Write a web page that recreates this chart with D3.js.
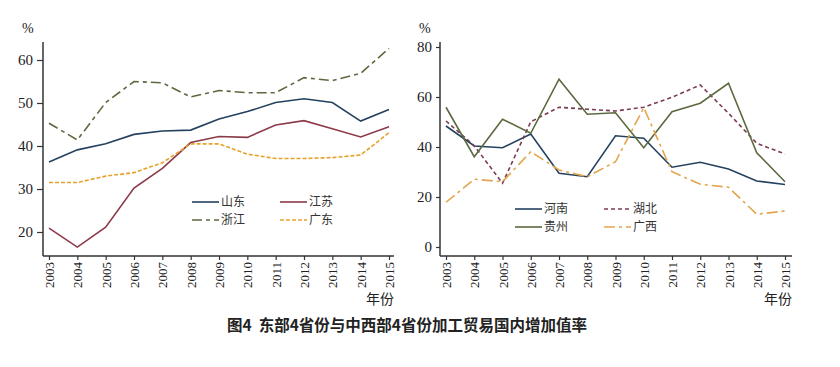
<!DOCTYPE html>
<html><head><meta charset="utf-8">
<script src="https://cdn.jsdelivr.net/npm/d3@7"></script>
<style>body{margin:0;background:#fff}svg{display:block}</style>
</head><body>
<svg id="c" width="840" height="367"></svg>
<script>
const years = [2003,2004,2005,2006,2007,2008,2009,2010,2011,2012,2013,2014,2015];
// East
const shandong  = [36.3,39.1,40.5,42.7,43.5,43.7,46.3,48.0,50.1,51.0,50.1,45.8,48.5];
const jiangsu   = [20.9,16.5,21.1,30.2,34.8,40.8,42.2,42.0,44.9,45.9,44.0,42.1,44.5];
const zhejiang  = [45.3,41.4,50.1,55.0,54.7,51.4,52.9,52.4,52.4,55.9,55.2,56.9,62.7];
const guangdong = [31.5,31.5,33.0,33.8,36.1,40.5,40.5,38.1,37.1,37.1,37.3,37.9,43.1];
// Central & West
const henan   = [48.4,40.4,39.7,45.2,29.5,28.1,44.5,43.5,31.9,33.9,31.2,26.4,25.0];
const hubei   = [50.4,40.5,25.5,50.1,55.9,55.1,54.4,55.9,59.9,64.8,53.5,41.5,37.2];
const guizhou = [55.9,36.1,51.1,45.5,67.1,53.1,53.7,39.7,54.1,57.5,65.5,37.7,26.1];
const guangxi = [17.9,27.1,26.1,38.1,30.8,28.1,34.1,55.7,30.1,25.1,23.9,13.1,14.4];
const leftTicks = [20,30,40,50,60];
const rightTicks = [0,20,40,60,80];
const title = "图4  东部4省份与中西部4省份加工贸易国内增加值率";

const svg = d3.select("#c");
const serif = "'Liberation Serif','Noto Sans CJK SC',serif";
const axisCol = "#333";

function panel(opt){
  const g = svg.append("g");
  const x = d3.scaleLinear().domain([2003,2015]).range(opt.xr);
  const y = d3.scaleLinear().domain(opt.yd).range(opt.yr);
  // y axis
  const ya = g.append("g").attr("transform",`translate(${opt.ax},0)`)
    .call(d3.axisLeft(y).tickValues(opt.ticks).tickSize(opt.tsize).tickPadding(4).tickFormat(d3.format("d")));
  ya.select(".domain").remove();
  ya.selectAll("line").attr("stroke",axisCol).attr("stroke-width",1.2);
  ya.selectAll("text").attr("font-family",serif).attr("font-size",15).attr("fill","#222");
  g.append("line").attr("x1",opt.ax).attr("x2",opt.ax).attr("y1",42).attr("y2",256)
    .attr("stroke",axisCol).attr("stroke-width",1.5);
  // x axis
  const xa = g.append("g").attr("transform",`translate(0,256)`)
    .call(d3.axisBottom(x).tickValues(years).tickSize(4).tickFormat(d3.format("d")));
  xa.select(".domain").remove();
  xa.selectAll("line").attr("stroke",axisCol).attr("stroke-width",1.2);
  xa.selectAll("text").attr("font-family",serif).attr("font-size",13).attr("fill","#222")
    .attr("transform","rotate(-90)").attr("text-anchor","end").attr("dy","0.35em")
    .attr("x",-6).attr("y",0);
  g.append("line").attr("x1",opt.ax).attr("x2",opt.xend).attr("y1",256).attr("y2",256)
    .attr("stroke",axisCol).attr("stroke-width",1.5);
  // labels
  g.append("text").attr("x",opt.ax-21).attr("y",33).attr("font-family",serif).attr("font-size",14).attr("fill","#222").text("%");
  g.append("text").attr("x",opt.xend).attr("y",304).attr("text-anchor","end")
    .attr("font-family","'Noto Sans CJK SC',sans-serif").attr("font-size",14).attr("fill","#222").text("年份");
  // lines
  const line = d3.line().x((d,i)=>x(years[i])).y(d=>y(d));
  opt.series.forEach(s=>{
    g.append("path").datum(s.values).attr("d",line).attr("fill","none")
      .attr("stroke",s.color).attr("stroke-width",1.6).attr("stroke-dasharray",s.dash||null);
  });
  // legend
  opt.series.forEach((s,i)=>{
    const col = i%2, row = Math.floor(i/2);
    const lx = opt.legX[col], ly = opt.legY[row];
    g.append("line").attr("x1",lx).attr("x2",lx+27).attr("y1",ly).attr("y2",ly)
      .attr("stroke",s.color).attr("stroke-width",1.6).attr("stroke-dasharray",s.dash||null);
    g.append("text").attr("x",lx+29).attr("y",ly).attr("dy","0.36em")
      .attr("font-family","'Noto Sans CJK SC',sans-serif").attr("font-size",12).attr("fill","#333").text(s.name);
  });
}

panel({
  xr:[49,389], xend:394, ax:43, yd:[20,60], yr:[232,60], ticks:leftTicks, tsize:6,
  legX:[192,280], legY:[202,220],
  series:[
    {name:"山东",values:shandong,color:"#24425f"},
    {name:"江苏",values:jiangsu,color:"#8c3a48"},
    {name:"浙江",values:zhejiang,color:"#5c6a40",dash:"10,4,4,4"},
    {name:"广东",values:guangdong,color:"#e6a12a",dash:"4,2"}
  ]
});
panel({
  xr:[446,785], xend:792, ax:440, yd:[0,80], yr:[247,47], ticks:rightTicks, tsize:4,
  legX:[515,604], legY:[209,227],
  series:[
    {name:"河南",values:henan,color:"#24425f"},
    {name:"湖北",values:hubei,color:"#7c3a55",dash:"4,3"},
    {name:"贵州",values:guizhou,color:"#5c6a40"},
    {name:"广西",values:guangxi,color:"#e3a54e",dash:"11,4,3,4"}
  ]
});

svg.append("text").attr("x",407).attr("y",331).attr("text-anchor","middle")
  .attr("font-family","'Noto Sans CJK SC',sans-serif").attr("font-weight","bold")
  .attr("font-size",15.5).attr("fill","#222").attr("xml:space","preserve").style("white-space","pre").text(title);
</script>
</body></html>
